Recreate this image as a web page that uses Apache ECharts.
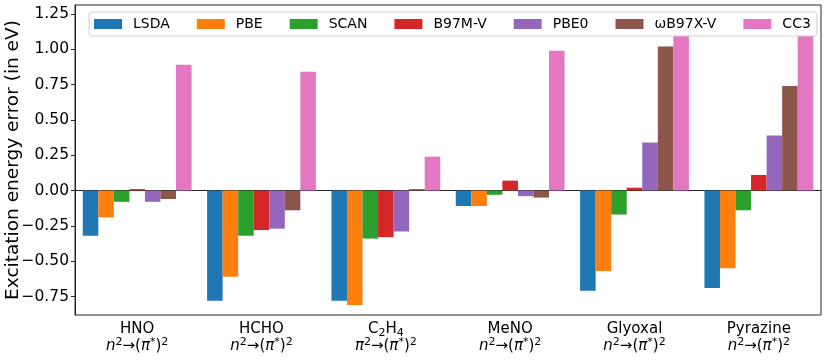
<!DOCTYPE html>
<html>
<head>
    <meta charset="utf-8">
    <script src="https://cdn.jsdelivr.net/npm/echarts@6/dist/echarts.min.js"></script>
    <style>
        body { margin: 0; background: #fff; }
        #chart { width: 830px; height: 364px; }
    </style>
</head>
<body>
    <div id="chart"></div>
    <script>
        // molecules on the x axis
        let molecules = ['HNO', 'HCHO', 'C2H4', 'MeNO', 'Glyoxal', 'Pyrazine'];
        let transitions = ['n', 'n', 'pi', 'n', 'n', 'n'];
        let methods = ['LSDA', 'PBE', 'SCAN', 'B97M-V', 'PBE0', 'ωB97X-V', 'CC3'];

        // excitation energy errors (eV), one array per method
        // (CC3 for Glyoxal / Pyrazine is hidden behind the legend in the source)
        let lsda   = [-0.32, -0.78, -0.78, -0.11, -0.71, -0.69];
        let pbe    = [-0.19, -0.61, -0.81, -0.11, -0.57, -0.55];
        let scan   = [-0.08, -0.32, -0.34, -0.03, -0.17, -0.14];
        let b97mv  = [0.01, -0.28, -0.33, 0.07, 0.02, 0.11];
        let pbe0   = [-0.08, -0.27, -0.29, -0.04, 0.34, 0.39];
        let wb97xv = [-0.06, -0.14, 0.01, -0.05, 1.02, 0.74];
        let cc3    = [0.89, 0.84, 0.24, 0.99, 1.15, 1.17];

        let yTicks = [-0.75, -0.5, -0.25, 0, 0.25, 0.5, 0.75, 1.0, 1.25];

        let colors = ['#1f77b4', '#ff7f0e', '#2ca02c', '#d62728', '#9467bd', '#8c564b', '#e377c2'];
        let values = [lsda, pbe, scan, b97mv, pbe0, wb97xv, cc3];

        let font = 'DejaVu Sans';

        function xLabel(name, idx) {
            let first = name === 'C2H4' ? '{a|C}{sub|2}{a|H}{sub|4}' : '{a|' + name + '}';
            let start = transitions[idx] === 'pi' ? '{i|π}' : '{i|n}';
            return first + '\n' + start + '{sup|2}{a|→(}{i|π}{sup|*}{a|)}{sup|2}';
        }

        var chart = echarts.init(document.getElementById('chart'), null, { renderer: 'canvas' });
        var option = {
            animation: false,
            color: colors,
            textStyle: { fontFamily: font },
            grid: {
                left: 75, right: 9, top: 5, bottom: 49,
                outerBoundsMode: 'none',
                show: true, borderColor: '#262626', borderWidth: 1
            },
            legend: {
                left: 89, top: 12,
                padding: [5, 6, 5, 5],
                itemWidth: 28, itemHeight: 10, itemGap: 27,
                backgroundColor: '#fff',
                borderColor: '#d0d0d0', borderWidth: 1, borderRadius: 3,
                icon: 'rect',
                textStyle: { fontSize: 14, color: '#000', fontFamily: font, padding: [0, 0, 0, 6] },
                data: methods
            },
            xAxis: {
                type: 'category',
                data: molecules,
                axisLine: { show: true, lineStyle: { color: '#262626' } },
                axisTick: { alignWithLabel: true, length: 4, lineStyle: { color: '#262626' } },
                axisLabel: {
                    interval: 0, margin: 6, color: '#000', lineHeight: 17,
                    formatter: function (v, i) { return xLabel(v, i); },
                    rich: {
                        a: { fontSize: 15, fontFamily: font, color: '#000' },
                        i: { fontSize: 15, fontFamily: font, fontStyle: 'italic', color: '#000' },
                        sub: { fontSize: 11, fontFamily: font, color: '#000', padding: [8, 0, 0, 0] },
                        sup: { fontSize: 11, fontFamily: font, color: '#000', padding: [0, 0, 8, 0] }
                    }
                }
            },
            yAxis: {
                type: 'value',
                min: -0.881, max: 1.313,
                name: 'Excitation energy error (in eV)',
                nameLocation: 'middle', nameGap: 52,
                nameMoveOverlap: false,
                nameTextStyle: { fontSize: 18.5, color: '#000', fontFamily: font },
                splitLine: { show: false },
                axisLine: { show: true, lineStyle: { color: '#262626' } },
                axisTick: { show: true, length: 4, customValues: yTicks, lineStyle: { color: '#262626' } },
                axisLabel: {
                    fontSize: 15.5, color: '#000', margin: 6,
                    customValues: yTicks,
                    formatter: function (v) { return v.toFixed(2).replace('-', '\u2212'); }
                }
            },
            series: methods.map(function (m, k) {
                return {
                    name: m,
                    type: 'bar',
                    data: values[k],
                    barGap: '0%',
                    barCategoryGap: '12.5%',
                    itemStyle: { color: colors[k] }
                };
            })
        };
        chart.setOption(option);
    </script>
</body>
</html>
